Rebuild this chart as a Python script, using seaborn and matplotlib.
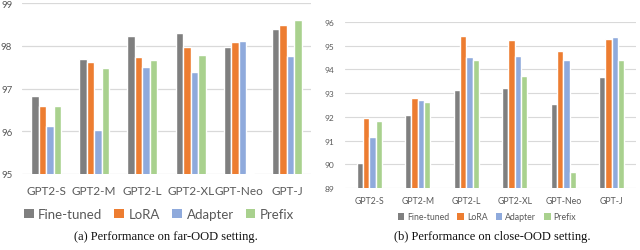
import matplotlib
matplotlib.use("Agg")
import matplotlib.pyplot as plt
import seaborn as sns
import pandas as pd
from matplotlib.patches import Patch

models = ["GPT2-S", "GPT2-M", "GPT2-L", "GPT2-XL", "GPT-Neo", "GPT-J"]
methods = ["Fine-tuned", "LoRA", "Adapter", "Prefix"]

far_finetuned = [96.82, 97.69, 98.22, 98.30, 97.98, 98.39]
far_lora = [96.59, 97.61, 97.74, 97.98, 98.08, 98.48]
far_adapter = [96.13, 96.04, 97.50, 97.39, 98.10, 97.77]
far_prefix = [96.59, 97.48, 97.67, 97.78, 95.02, 98.60]

close_finetuned = [90.07, 92.06, 93.13, 93.22, 92.53, 93.70]
close_lora = [91.95, 92.78, 95.40, 95.24, 94.79, 95.28]
close_adapter = [91.16, 92.72, 94.53, 94.57, 94.40, 95.35]
close_prefix = [91.83, 92.64, 94.38, 93.73, 89.66, 94.38]

colors = ["#7f7f7f", "#ed7d31", "#8faadc", "#a9d18e"]


def long_df(series):
    rows = []
    for meth, vals in zip(methods, series):
        for m, v in zip(models, vals):
            rows.append({"model": m, "method": meth, "score": v})
    return pd.DataFrame(rows)


df_far = long_df([far_finetuned, far_lora, far_adapter, far_prefix])
df_close = long_df([close_finetuned, close_lora, close_adapter, close_prefix])

sns.set_theme(style="white")
plt.rcParams["font.family"] = ["Lato", "DejaVu Sans"]

W, H = 640, 251
fig = plt.figure(figsize=(W / 100, H / 100), dpi=100)


def px_axes(x0, y0, x1, y1):
    return fig.add_axes([x0 / W, 1 - y1 / H, (x1 - x0) / W, (y1 - y0) / H])


tick_color = "#595959"
grid_color = "#d9d9d9"

# left panel
ax1 = px_axes(22, 4, 311, 175)
sns.barplot(data=df_far, x="model", y="score", hue="method", palette=colors,
            width=0.62, ax=ax1, legend=False, saturation=1)
ax1.set_ylim(95, 99)
ax1.set_yticks([95, 96, 97, 98, 99])
ax1.set_xlim(-0.5, 5.5)
ax1.set_axisbelow(True)
ax1.yaxis.grid(True, color=grid_color, linewidth=0.9)
for s in ax1.spines.values():
    s.set_visible(False)
ax1.set_xlabel("")
ax1.set_ylabel("")
ax1.tick_params(axis="y", labelsize=7, colors=tick_color, length=0, pad=7)
ax1.tick_params(axis="x", labelsize=8.5, colors=tick_color, length=0, pad=8)

# right panel
ax2 = px_axes(345, 23, 636, 189)
sns.barplot(data=df_close, x="model", y="score", hue="method", palette=colors,
            width=0.52, ax=ax2, legend=False, saturation=1)
ax2.set_ylim(89, 96)
ax2.set_yticks(range(89, 97))
ax2.set_xlim(-0.5, 5.5)
ax2.set_axisbelow(True)
ax2.yaxis.grid(True, color=grid_color, linewidth=0.8)
for s in ax2.spines.values():
    s.set_visible(False)
ax2.set_xlabel("")
ax2.set_ylabel("")
ax2.tick_params(axis="y", labelsize=6, colors=tick_color, length=0, pad=8)
ax2.tick_params(axis="x", labelsize=6.3, colors=tick_color, length=0, pad=6)

handles = [Patch(facecolor=c, edgecolor="none") for c in colors]
fig.legend(handles, methods, loc="center", bbox_to_anchor=(159 / W, 1 - 215 / H),
           ncol=4, frameon=False, fontsize=9.5, handlelength=0.75, handleheight=0.75,
           handletextpad=0.35, columnspacing=0.9, labelcolor=tick_color)
fig.legend(handles, methods, loc="center", bbox_to_anchor=(487 / W, 1 - 218 / H),
           ncol=4, frameon=False, fontsize=6.3, handlelength=0.75, handleheight=0.75,
           handletextpad=0.35, columnspacing=0.9, labelcolor=tick_color)

fig.text(166 / W, 1 - 237 / H, "(a) Performance on far-OOD setting.",
         ha="center", va="center", fontsize=9, family="Liberation Serif", color="#111111")
fig.text(492 / W, 1 - 237 / H, "(b) Performance on close-OOD setting.",
         ha="center", va="center", fontsize=9, family="Liberation Serif", color="#111111")

fig.savefig("out.png", dpi=100, facecolor="white")
